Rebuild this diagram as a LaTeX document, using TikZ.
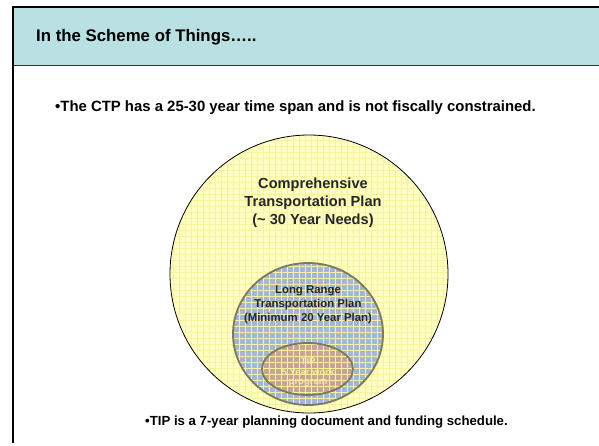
\documentclass[tikz,border=0pt]{standalone}
\usepackage{fontspec}
\setmainfont{Liberation Sans}
\begin{document}
\begin{tikzpicture}[x=1pt,y=-1pt]
\definecolor{hdrfill}{HTML}{B9E0E3}
\definecolor{outerfill}{HTML}{FFFFC4}
\definecolor{midfill}{HTML}{A3B6D6}
\definecolor{innerfill}{HTML}{C9A394}
\definecolor{ringline}{HTML}{7D7A58}
\definecolor{gridcol}{HTML}{F6F29E}
\definecolor{tiptext}{HTML}{F4EC9A}
\tikzset{
  gridline/.style={draw=gridcol, line width=0.55pt},
  bodytext/.style={font=\bfseries\fontsize{#1}{#1}\selectfont, inner sep=0pt},
}
\useasboundingbox (0,0) rectangle (599,445);
\fill[white] (0,0) rectangle (599,445);
% header band
\fill[hdrfill] (13,7) rectangle (599,65);
\draw[line width=1pt, black!80] (13,65) -- (599,65);
\draw[line width=2.2pt] (599,7) -- (13,7) -- (13,443);
\node[bodytext=16.8, anchor=west] (title) at (36,37) {In the Scheme of Things…..};
\node[bodytext=14.9, anchor=west] (ctpnote) at (55,108) {•The CTP has a 25-30 year time span and is not fiscally constrained.};
% circles
\coordinate (c1) at (309,274);
\coordinate (c2) at (308,334);
\coordinate (c3) at (307.5,369);
\fill[outerfill] (c1) circle [radius=139];
\fill[midfill] (c2) ellipse [x radius=75, y radius=71];
\fill[innerfill] (c3) ellipse [x radius=45.5, y radius=26];
\begin{scope}
  \clip (c1) circle [radius=139];
  \foreach \gx in {167,173,...,455} \draw[gridline] (\gx,130) -- (\gx,418);
  \foreach \gy in {134,140,...,416} \draw[gridline] (165,\gy) -- (455,\gy);
\end{scope}
\draw[line width=0.8pt] (c1) circle [radius=139];
\draw[ringline, line width=1.8pt] (c2) ellipse [x radius=75, y radius=71];
\draw[ringline, line width=1.8pt] (c3) ellipse [x radius=45.5, y radius=26];
% labels
\node[inner sep=0pt, align=center, font=\bfseries\fontsize{14.6}{17.8}\selectfont, black!85] (ctp) at (313,203) {Comprehensive\\Transportation Plan\\(\textasciitilde{} 30 Year Needs)};
\node[inner sep=0pt, align=center, font=\bfseries\fontsize{11.4}{13.8}\selectfont, black!85] (lrtp) at (308,305) {Long Range\\Transportation Plan\\(Minimum 20 Year Plan)};
\node[inner sep=0pt, align=center, font=\bfseries\fontsize{9.5}{11.5}\selectfont, text=tiptext] (tip) at (308,372) {TIP\\5 Year work\\[-2.5pt]program};
\node[bodytext=13.2, anchor=west] (tipnote) at (145,422) {•TIP is a 7-year planning document and funding schedule.};
\end{tikzpicture}
\end{document}
